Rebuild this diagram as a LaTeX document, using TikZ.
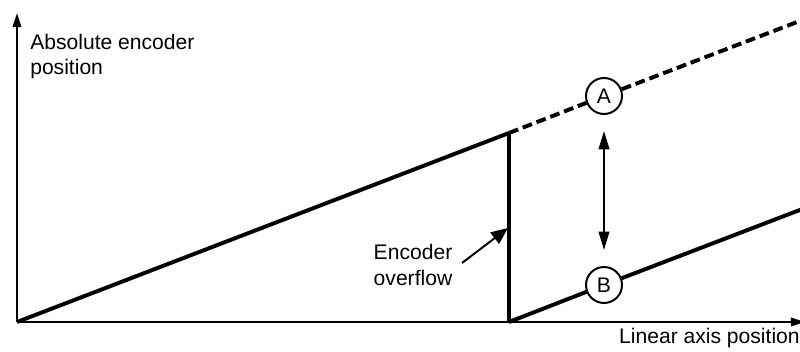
\documentclass[tikz,border=0pt]{standalone}
\usepackage{fontspec}
\setmainfont{Liberation Sans}
\usetikzlibrary{arrows.meta, positioning}

\begin{document}
\begin{tikzpicture}[x=0.025cm, y=0.025cm,
  font=\fontsize{15}{18}\selectfont,
  axis/.style={draw, line width=1.4pt},
  ramp/.style={draw, line width=2.8pt},
  marker/.style={circle, draw, line width=1.4pt, fill=white, minimum size=36*0.025cm, inner sep=0pt},
  line/.style={draw, line width=1.4pt, -{Triangle[length=13pt, width=7.5pt]}}]
  \useasboundingbox (0,0) rectangle (800,352);
  % axes
  \coordinate (O) at (17,30);
  \coordinate (ytip) at (17,339);
  \coordinate (xtip) at (805,30);
  \draw [axis, -{Triangle[length=10pt, width=6pt]}] (O) -- (ytip);
  \draw [axis, -{Triangle[length=10pt, width=6pt]}] (O) -- (xtip);
  \node [anchor=north west, align=left, inner sep=0pt] (ylabel) at (30,318) {Absolute encoder\\position};
  \node [anchor=south east, inner sep=0pt] (xlabel) at (800,4) {Linear axis position};
  % encoder ramps
  \coordinate (top) at (509,219);
  \coordinate (foot) at (509,30);
  \coordinate (dashend) at (805,333);
  \coordinate (rampend) at (805,144);
  \node [marker] (A) at (604,256) {A};
  \node [marker] (B) at (604,67) {B};
  \draw [ramp] (O) -- (top);
  \draw [ramp, line width=2.4pt] (top) -- (foot);
  \draw [ramp, dash pattern=on 7pt off 3.5pt] (top) -- (A);
  \draw [ramp, dash pattern=on 7pt off 3.5pt] (A) -- (dashend);
  \draw [ramp] (foot) -- (B);
  \draw [ramp] (B) -- (rampend);
  \draw [line, {Triangle[length=13pt, width=7.5pt]}-{Triangle[length=13pt, width=7.5pt]}, shorten >=0.4cm, shorten <=0.4cm] (A) -- (B);
  % overflow label
  \node [align=center, inner sep=0pt] (overflow) at (413,87) {Encoder\\overflow};
  \coordinate (hit) at (508,124);
  \draw [line, -{Triangle[length=12pt, width=10pt]}] (462,89) -- (hit);
\end{tikzpicture}
\end{document}
